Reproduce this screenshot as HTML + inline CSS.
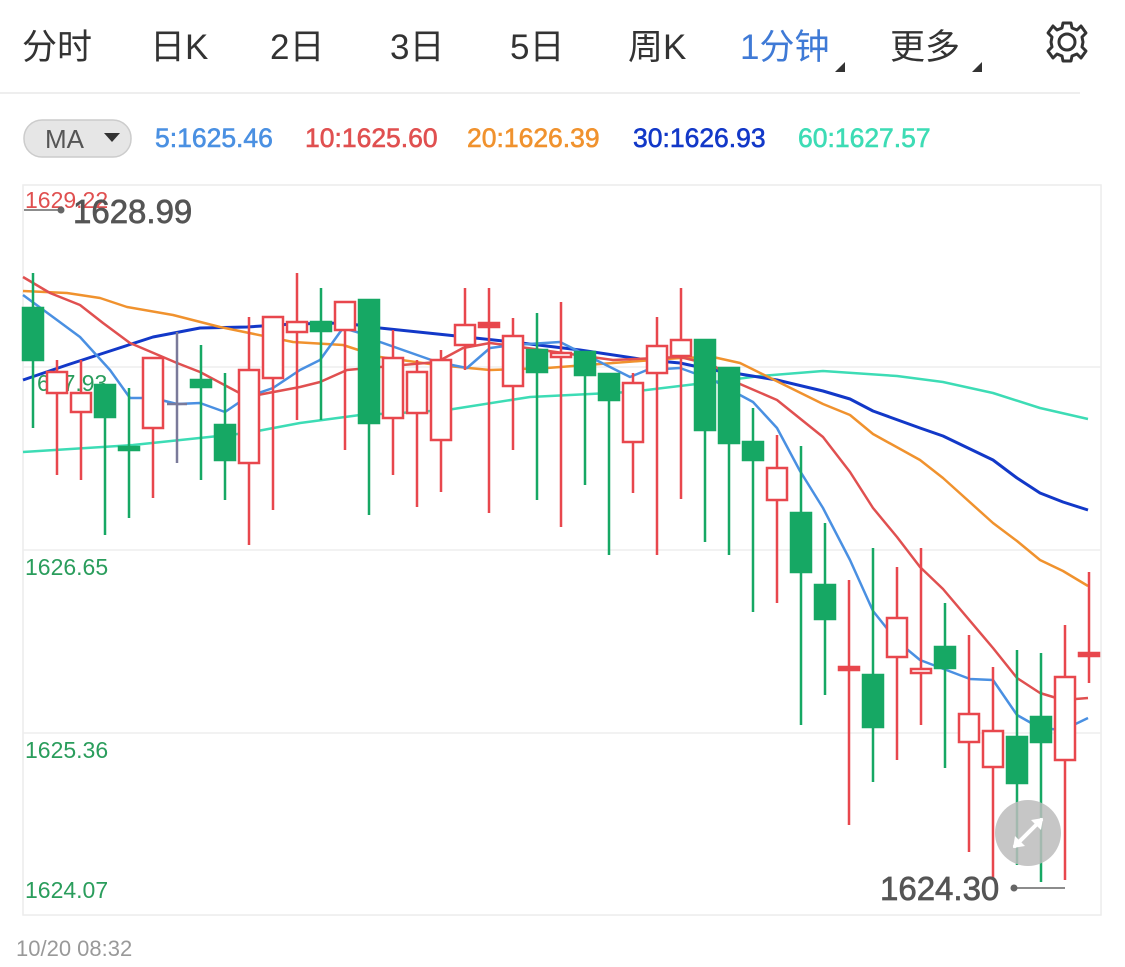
<!DOCTYPE html>
<html><head><meta charset="utf-8"><style>
html,body{margin:0;padding:0;background:#fff;width:1125px;height:967px;overflow:hidden;font-family:"Liberation Sans","Noto Sans CJK SC",sans-serif;}
.t{position:absolute;font-size:35px;color:#333;top:19px;}
</style></head><body>
<div class="t" style="left:22px">分时</div>
<div class="t" style="left:150px">日K</div>
<div class="t" style="left:270px">2日</div>
<div class="t" style="left:390px">3日</div>
<div class="t" style="left:510px">5日</div>
<div class="t" style="left:628px">周K</div>
<div class="t" style="left:740px;color:#3f7ad6">1分钟</div>
<div class="t" style="left:890px">更多</div>
<svg width="1125" height="967" style="position:absolute;left:0;top:0" xmlns="http://www.w3.org/2000/svg">
<polygon points="845,62 845,72 835,72" fill="#333"/>
<polygon points="982,62 982,72 972,72" fill="#333"/>
<g transform="translate(1067,42)" fill="none" stroke="#333" stroke-width="3">
<circle r="8"/>
<path d="M-4,-19 L4,-19 L5,-14 L10,-12 L14,-16 L19,-9 L15,-5 L16,0 L15,5 L19,9 L14,16 L10,12 L5,14 L4,19 L-4,19 L-5,14 L-10,12 L-14,16 L-19,9 L-15,5 L-16,0 L-15,-5 L-19,-9 L-14,-16 L-10,-12 L-5,-14 Z" stroke-linejoin="round"/>
</g>
<line x1="0" y1="93" x2="1080" y2="93" stroke="#eee" stroke-width="2"/>
<rect x="24" y="120" width="107" height="37" rx="18" fill="#e6e6e6" stroke="#ccc" stroke-width="1.5"/>
<text x="45" y="148" font-size="26" fill="#555" font-family="Liberation Sans">MA</text>
<polygon points="104,133 120,133 112,142" fill="#333"/>
<g font-size="26.5" font-family="Liberation Sans" stroke-width="0.6">
<text x="155" y="147" fill="#4a90e2" stroke="#4a90e2">5:1625.46</text>
<text x="305" y="147" fill="#e05050" stroke="#e05050">10:1625.60</text>
<text x="467" y="147" fill="#f0922e" stroke="#f0922e">20:1626.39</text>
<text x="633" y="147" fill="#1238c8" stroke="#1238c8">30:1626.93</text>
<text x="798" y="147" fill="#3ddcb5" stroke="#3ddcb5">60:1627.57</text>
</g>
<rect x="23" y="185" width="1078" height="730" fill="none" stroke="#ececec" stroke-width="1.5"/>
<g stroke="#eee" stroke-width="1.5"><line x1="23" y1="367" x2="1101" y2="367"/><line x1="23" y1="550" x2="1101" y2="550"/><line x1="23" y1="733" x2="1101" y2="733"/></g>
<g font-size="23" fill="#2a9d5c" font-family="Liberation Sans">
<text x="25" y="208" fill="#e05050">1629.22</text>
<text x="37" y="391">627.93</text>
<text x="25" y="575">1626.65</text>
<text x="25" y="758">1625.36</text>
<text x="25" y="898">1624.07</text>
</g>
<g fill="none" stroke-width="2.5" stroke-linejoin="round">
<polyline stroke="#3ddcb5" points="23,452 133,445 247,433 300,423 360,415 400,413 447,410 530,397 630,392 713,382 760,376 823,371 897,376 943,382 993,393 1040,408 1088,419"/>
<polyline stroke="#1238c8" stroke-width="3" points="23,380 67,365 107,352 153,337 200,328 247,327 293,324 343,323 380,328 447,335 513,342 580,350 647,360 680,363 713,370 740,374 777,380 823,391 850,399 873,411 920,428 943,436 993,460 1017,478 1040,493 1063,502 1088,510"/>
<polyline stroke="#f0922e" points="23,291 67,293 100,298 127,307 173,315 220,327 293,342 343,345 380,357 437,365 490,370 547,368 613,363 680,358 713,357 740,363 823,404 850,415 873,434 920,460 943,478 993,523 1017,541 1040,560 1063,571 1088,586"/>
<polyline stroke="#e05050" points="23,277 50,293 80,305 103,323 130,343 177,363 200,372 247,397 300,387 320,382 347,370 380,367 437,362 463,348 490,343 520,347 563,353 613,360 680,357 713,365 740,384 777,400 823,437 850,472 873,508 897,537 920,567 943,589 993,648 1017,678 1040,693 1063,700 1088,698"/>
<polyline stroke="#4a90e2" points="23,295 57,320 80,337 110,370 130,398 153,398 177,404 200,403 225,412 247,397 273,388 300,370 320,360 343,328 360,333 380,342 437,362 467,368 490,348 513,345 560,342 580,352 630,377 647,370 680,368 713,380 740,395 753,402 777,428 800,471 823,508 850,560 873,611 897,641 920,660 970,679 993,680 1017,715 1040,728 1063,730 1088,718"/>
</g>
<g stroke-width="2.5">
<g stroke="#16a864" fill="#16a864">
<line x1="33" y1="273" x2="33" y2="428"/><rect x="23" y="308" width="20" height="52"/>
<line x1="105" y1="385" x2="105" y2="535"/><rect x="95" y="385" width="20" height="32"/>
<line x1="129" y1="388" x2="129" y2="518"/><rect x="119" y="447" width="20" height="3"/>
<line x1="201" y1="345" x2="201" y2="480"/><rect x="191" y="380" width="20" height="7"/>
<line x1="225" y1="373" x2="225" y2="500"/><rect x="215" y="425" width="20" height="35"/>
<line x1="321" y1="288" x2="321" y2="420"/><rect x="311" y="322" width="20" height="9"/>
<line x1="369" y1="300" x2="369" y2="515"/><rect x="359" y="300" width="20" height="123"/>
<line x1="537" y1="313" x2="537" y2="500"/><rect x="527" y="350" width="20" height="22"/>
<line x1="585" y1="352" x2="585" y2="485"/><rect x="575" y="352" width="20" height="23"/>
<line x1="609" y1="374" x2="609" y2="555"/><rect x="599" y="374" width="20" height="26"/>
<line x1="705" y1="340" x2="705" y2="542"/><rect x="695" y="340" width="20" height="90"/>
<line x1="729" y1="368" x2="729" y2="555"/><rect x="719" y="368" width="20" height="75"/>
<line x1="753" y1="408" x2="753" y2="612"/><rect x="743" y="442" width="20" height="18"/>
<line x1="801" y1="446" x2="801" y2="725"/><rect x="791" y="513" width="20" height="59"/>
<line x1="825" y1="523" x2="825" y2="695"/><rect x="815" y="585" width="20" height="34"/>
<line x1="873" y1="548" x2="873" y2="782"/><rect x="863" y="675" width="20" height="52"/>
<line x1="945" y1="603" x2="945" y2="768"/><rect x="935" y="647" width="20" height="21"/>
<line x1="1017" y1="650" x2="1017" y2="865"/><rect x="1007" y="737" width="20" height="46"/>
<line x1="1041" y1="653" x2="1041" y2="882"/><rect x="1031" y="717" width="20" height="25"/>
</g>
<g stroke="#7a7a9a"><line x1="177" y1="332" x2="177" y2="463"/><line x1="167" y1="404" x2="187" y2="404"/></g>
<g stroke="#e8474d" fill="#fff">
<line x1="57" y1="360" x2="57" y2="475"/><rect x="47" y="372" width="20" height="21"/>
<line x1="81" y1="360" x2="81" y2="480"/><rect x="71" y="393" width="20" height="19"/>
<line x1="153" y1="358" x2="153" y2="498"/><rect x="143" y="358" width="20" height="70"/>
<line x1="249" y1="317" x2="249" y2="545"/><rect x="239" y="370" width="20" height="93"/>
<line x1="273" y1="317" x2="273" y2="510"/><rect x="263" y="317" width="20" height="61"/>
<line x1="297" y1="273" x2="297" y2="420"/><rect x="287" y="322" width="20" height="10"/>
<line x1="345" y1="302" x2="345" y2="450"/><rect x="335" y="302" width="20" height="28"/>
<line x1="393" y1="330" x2="393" y2="475"/><rect x="383" y="358" width="20" height="60"/>
<line x1="417" y1="360" x2="417" y2="507"/><rect x="407" y="372" width="20" height="41"/>
<line x1="441" y1="350" x2="441" y2="492"/><rect x="431" y="360" width="20" height="80"/>
<line x1="465" y1="288" x2="465" y2="370"/><rect x="455" y="325" width="20" height="20"/>
<line x1="489" y1="288" x2="489" y2="513"/><rect x="479" y="323" width="20" height="4" fill="#e8474d"/>
<line x1="513" y1="318" x2="513" y2="450"/><rect x="503" y="336" width="20" height="50"/>
<line x1="561" y1="302" x2="561" y2="527"/><rect x="551" y="353" width="20" height="4"/>
<line x1="633" y1="373" x2="633" y2="493"/><rect x="623" y="383" width="20" height="59"/>
<line x1="657" y1="317" x2="657" y2="555"/><rect x="647" y="346" width="20" height="27"/>
<line x1="681" y1="288" x2="681" y2="499"/><rect x="671" y="340" width="20" height="16"/>
<line x1="777" y1="435" x2="777" y2="603"/><rect x="767" y="468" width="20" height="32"/>
<line x1="849" y1="580" x2="849" y2="825"/><rect x="839" y="667" width="20" height="3" fill="#e8474d"/>
<line x1="897" y1="567" x2="897" y2="760"/><rect x="887" y="618" width="20" height="39"/>
<line x1="921" y1="548" x2="921" y2="725"/><rect x="911" y="669" width="20" height="4"/>
<line x1="969" y1="635" x2="969" y2="852"/><rect x="959" y="714" width="20" height="28"/>
<line x1="993" y1="667" x2="993" y2="880"/><rect x="983" y="731" width="20" height="36"/>
<line x1="1065" y1="625" x2="1065" y2="880"/><rect x="1055" y="677" width="20" height="83"/>
<line x1="1089" y1="572" x2="1089" y2="683"/><rect x="1079" y="653" width="20" height="3" fill="#e8474d"/>
</g>
</g>
<line x1="24" y1="210" x2="60" y2="210" stroke="#666" stroke-width="1.5"/>
<circle cx="61" cy="210" r="3.5" fill="#666"/>
<text x="73" y="223" font-size="33" fill="#555" stroke="#555" stroke-width="0.7" font-family="Liberation Sans">1628.99</text>
<text x="880" y="900" font-size="33" fill="#555" stroke="#555" stroke-width="0.7" font-family="Liberation Sans">1624.30</text>
<circle cx="1014" cy="888" r="3.5" fill="#666"/>
<line x1="1014" y1="888" x2="1065" y2="888" stroke="#666" stroke-width="1.5"/>
<circle cx="1028" cy="833" r="33" fill="#bcbcbc" opacity="0.85"/>
<g stroke="#fff" stroke-width="4" stroke-linecap="round"><line x1="1015" y1="846" x2="1041" y2="820"/></g>
<polygon points="1043,818 1031,820 1041,830" fill="#fff"/>
<polygon points="1013,848 1025,846 1015,836" fill="#fff"/>
<text x="16" y="956" font-size="22" fill="#999" font-family="Liberation Sans">10/20 08:32</text>
</svg>
</body></html>
